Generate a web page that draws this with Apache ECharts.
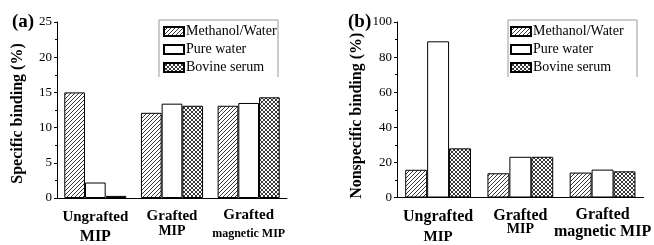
<!DOCTYPE html>
<html lang="en">
<head>
    <meta charset="UTF-8">
    <title>Binding</title>
    <script src="https://cdn.jsdelivr.net/npm/echarts@6/dist/echarts.min.js"></script>
</head>
<body style="margin: 0">
<div id="main" style="width: 654px;height: 245px"></div>
<script>
    const groups = ['Ungrafted MIP', 'Grafted MIP', 'Grafted magnetic MIP'];
    const seriesNames = ['Methanol/Water', 'Pure water', 'Bovine serum'];

    // (a) specific binding (%)
    const specMethanol = [15.0, 12.1, 13.1];
    const specWater = [2.2, 13.4, 13.5];
    const specSerum = [0.3, 13.1, 14.3];

    // (b) nonspecific binding (%)
    const nonspecMethanol = [15.8, 13.8, 14.2];
    const nonspecWater = [89, 23.2, 15.9];
    const nonspecSerum = [28, 23.2, 14.9];

    const serif = 'Liberation Serif';

    // hatch patterns
    function makePattern(cross) {
        const c = document.createElement('canvas');
        c.width = 4;
        c.height = 4;
        const ctx = c.getContext('2d');
        ctx.fillStyle = '#fff';
        ctx.fillRect(0, 0, 4, 4);
        ctx.strokeStyle = '#222';
        ctx.lineWidth = 0.9;
        ctx.beginPath();
        // "/" direction
        ctx.moveTo(-1, 5); ctx.lineTo(5, -1);
        ctx.moveTo(-1, 1); ctx.lineTo(1, -1);
        ctx.moveTo(3, 5); ctx.lineTo(5, 3);
        if (cross) {
            ctx.moveTo(-1, -1); ctx.lineTo(5, 5);
            ctx.moveTo(3, -1); ctx.lineTo(5, 1);
            ctx.moveTo(-1, 3); ctx.lineTo(1, 5);
        }
        ctx.stroke();
        return {image: c, repeat: 'repeat'};
    }
    const hatch = makePattern(false);
    const crossHatch = makePattern(true);
    const fills = [hatch, '#fff', crossHatch];

    function labelRich(sizes) {
        // sizes: [[font1, lh1, font2, lh2], ...] per category
        const rich = {};
        sizes.forEach(function (s, i) {
            rich['a' + i] = {fontFamily: serif, fontWeight: 'bold', fontSize: s[0], lineHeight: s[1], color: '#000'};
            rich['b' + i] = {fontFamily: serif, fontWeight: 'bold', fontSize: s[2], lineHeight: s[3], color: '#000'};
        });
        return rich;
    }
    function labelFmt(value, index) {
        const k = value.indexOf(' ');
        return '{a' + index + '|' + value.slice(0, k) + '}\n{b' + index + '|' + value.slice(k + 1) + '}';
    }

    function xAxis(gridIndex, rich) {
        return {
            type: 'category',
            gridIndex: gridIndex,
            data: groups,
            axisLine: {lineStyle: {color: '#000', width: 1}},
            axisTick: {show: false},
            axisLabel: {interval: 0, margin: 9, formatter: labelFmt, rich: rich}
        };
    }
    function yAxis(gridIndex, name, max, interval, gap, pad) {
        return {
            type: 'value',
            gridIndex: gridIndex,
            min: 0,
            max: max,
            interval: interval,
            name: name,
            nameLocation: 'middle',
            nameGap: gap,
            nameTextStyle: {fontFamily: serif, fontWeight: 'bold', fontSize: 16, color: '#000', padding: [0, pad, 0, 0]},
            axisLine: {show: true, lineStyle: {color: '#000', width: 1}},
            axisTick: {show: true, inside: false, length: 3, lineStyle: {color: '#000'}},
            minorTick: {show: true, splitNumber: 2, length: 2, lineStyle: {color: '#000'}},
            splitLine: {show: false},
            axisLabel: {fontFamily: serif, fontSize: 13, color: '#000', margin: 5}
        };
    }
    function barSeries(name, data, idx, axisIdx, gap) {
        return {
            name: name,
            type: 'bar',
            xAxisIndex: axisIdx,
            yAxisIndex: axisIdx,
            data: data,
            barGap: '0%',
            barCategoryGap: gap,
            itemStyle: {color: fills[idx], borderColor: '#000', borderWidth: 1},
            emphasis: {disabled: true}
        };
    }

    const chart = echarts.init(document.getElementById('main'));
    const legendCommon = {
        orient: 'vertical',
        icon: 'rect',
        itemWidth: 20,
        itemHeight: 9,
        itemGap: 3,
        padding: 0,
        textStyle: {fontFamily: serif, fontSize: 14, color: '#000', lineHeight: 15, padding: [0, 0, 0, -3]},
        selectedMode: false
    };
    const option = {
        animation: false,
        grid: [
            {left: 57, top: 22, width: 230, height: 181},
            {left: 397, top: 22, width: 248, height: 181}
        ],
        legend: [
            Object.assign({left: 163, top: 24, data: seriesNames.map(n => ({name: n}))}, legendCommon),
            Object.assign({left: 510, top: 24, data: seriesNames.map(n => ({name: n + ' '}))}, legendCommon)
        ],
        xAxis: [
            xAxis(0, labelRich([[15, 20, 16, 20], [15, 18, 14, 12], [15, 17, 12, 20]])),
            xAxis(1, labelRich([[16, 20, 15, 22], [16, 18, 14, 10], [16, 16, 16, 18]]))
        ],
        yAxis: [
            yAxis(0, 'Specific binding (%)', 25, 5, 31, 7),
            yAxis(1, 'Nonspecific binding (%)', 100, 20, 32, 12)
        ],
        series: [
            barSeries(seriesNames[0], specMethanol, 0, 0, '19%'),
            barSeries(seriesNames[1], specWater, 1, 0, '19%'),
            barSeries(seriesNames[2], specSerum, 2, 0, '19%'),
            barSeries(seriesNames[0] + ' ', nonspecMethanol, 0, 1, '20%'),
            barSeries(seriesNames[1] + ' ', nonspecWater, 1, 1, '20%'),
            barSeries(seriesNames[2] + ' ', nonspecSerum, 2, 1, '20%')
        ],
        graphic: [
            {type: 'text', left: 12, top: 13, style: {text: '(a)', font: 'bold 19px ' + serif, fill: '#000'}},
            {type: 'text', left: 348, top: 13, style: {text: '(b)', font: 'bold 19px ' + serif, fill: '#000'}},
            {type: 'polyline', shape: {points: [[159, 77], [159, 20], [278, 20], [278, 77]]},
                style: {stroke: '#999', fill: null, lineWidth: 1}},
            {type: 'polyline', shape: {points: [[508, 77], [508, 20], [637, 20], [637, 77]]},
                style: {stroke: '#999', fill: null, lineWidth: 1}}
        ]
    };
    chart.setOption(option);
</script>
</body>
</html>
